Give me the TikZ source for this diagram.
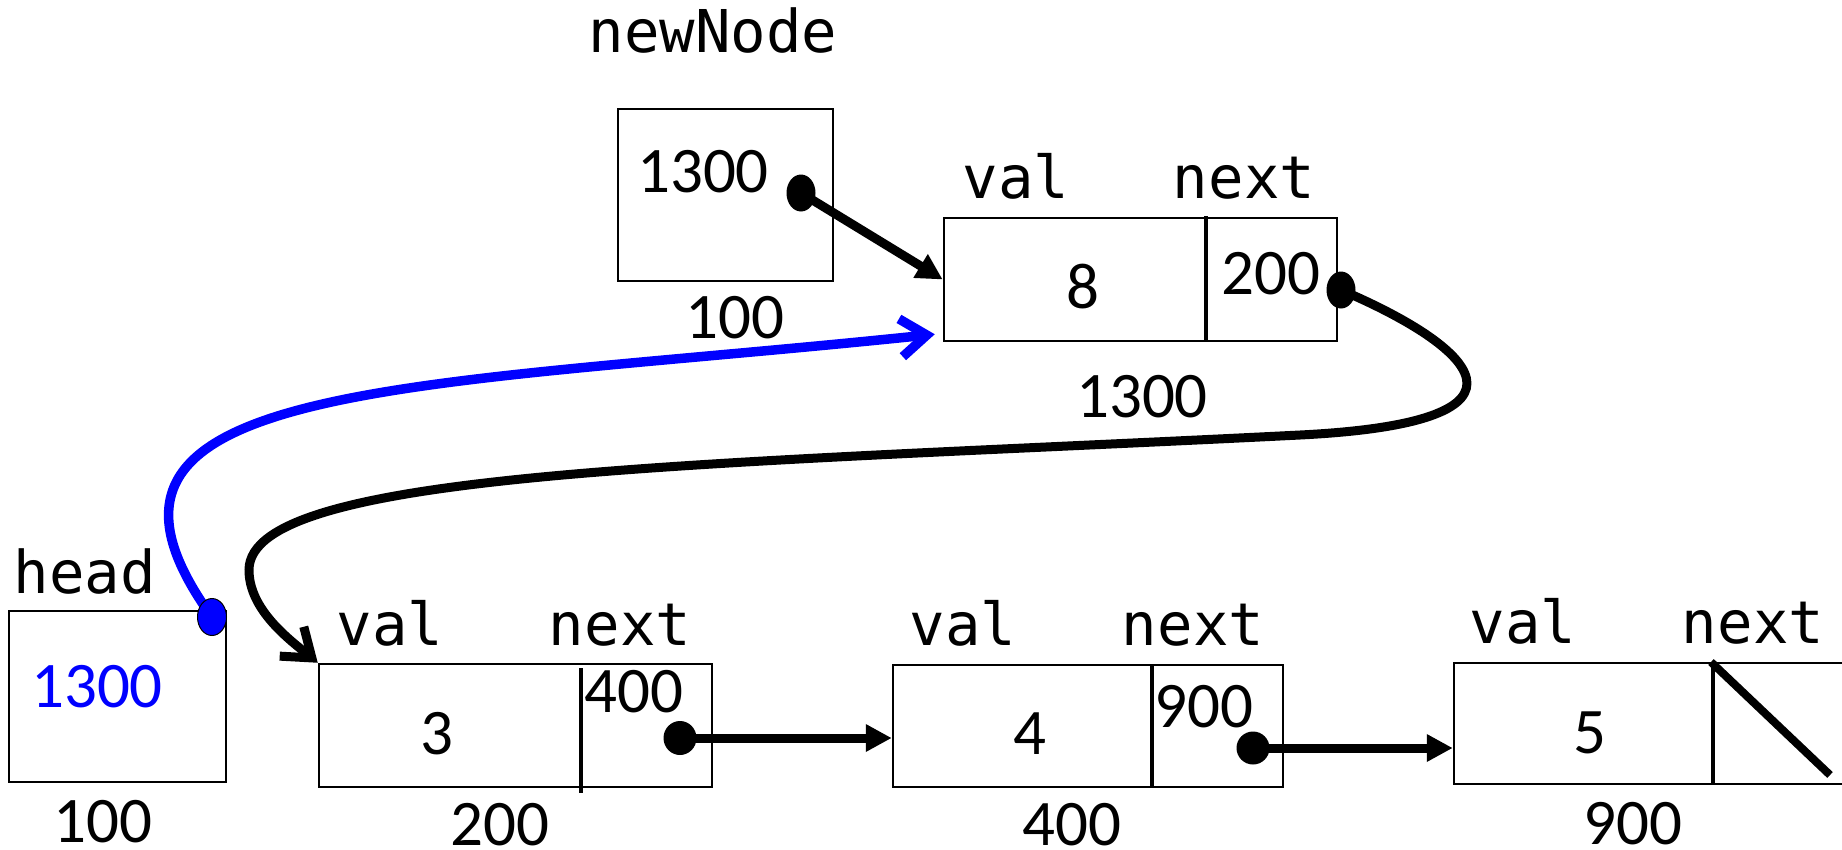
\documentclass[tikz,border=0pt]{standalone}
\usepackage{fontspec}
\newfontfamily\monof{DejaVu Sans Mono}
\newfontfamily\numf{Carlito}
\usetikzlibrary{arrows.meta,shapes.geometric,calc}
\definecolor{ptrblue}{RGB}{0,0,255}
\tikzset{
  lbl/.style={font=\monof\fontsize{59}{60}\selectfont, inner sep=0pt, anchor=base},
  num/.style={font=\numf\fontsize{65}{66}\selectfont, inner sep=0pt},
  cell/.style={draw, line width=2.5pt, rectangle, inner sep=0pt},
  divider/.style={line width=3.5pt},
  dot/.style={ellipse, fill=black, inner sep=0pt, minimum width=29pt, minimum height=37pt},
  ptr/.style={line width=9pt, -{Triangle[length=26pt,width=26pt]}},
  curveptr/.style={line width=9pt, -{Straight Barb[length=26pt,width=38pt]}},
}
\begin{document}
\begin{tikzpicture}[x=1pt,y=-1pt]
\useasboundingbox (0,0) rectangle (1842,849);
\clip (0,0) rectangle (1842,849);

% boxes
\node[cell, minimum width=217pt, minimum height=171pt] (head) at (117.5,696.5) {};
\node[cell, minimum width=215pt, minimum height=172pt] (newnode) at (725.5,195) {};
\node[cell, minimum width=393pt, minimum height=123pt] (n1300) at (1140.5,279.5) {};
\node[cell, minimum width=393pt, minimum height=123pt] (n200) at (515.5,725.5) {};
\node[cell, minimum width=390pt, minimum height=122pt] (n400) at (1088,726) {};
\node[cell, minimum width=393pt, minimum height=121pt] (n900) at (1650.5,723.5) {};

% dividers
\draw[divider] (1206,216) -- (1206,341);
\draw[divider] (581,668) -- (581,793);
\draw[divider] (1152,665) -- (1152,788);
\draw[divider] (1713,663) -- (1713,784);
\draw[line width=8pt] (1711,662) -- (1830,775);

% texts
\node[lbl] (tnew) at (713,52) {newNode};
\node[num] (vnew) at (703,172) {1300};
\node[num] (anew) at (735,318) {100};

\node[lbl] (tv1) at (1016,198) {val};
\node[lbl] (tn1) at (1244,198) {next};
\node[num] (v1) at (1083,287) {8};
\node[num] (x1) at (1271,274) {200};
\node[num] (a1) at (1142,397) {1300};

\node[lbl] (thead) at (85,593) {head};
\node[num, text=ptrblue] (vhead) at (97,687) {1300};
\node[num] (ahead) at (103,822) {100};

\node[lbl] (tv2) at (390,645) {val};
\node[lbl] (tn2) at (620,645) {next};
\node[num] (x2) at (634,692) {400};
\node[num] (v2) at (437,734) {3};
\node[num] (a2) at (500,825) {200};

\node[lbl] (tv3) at (963,645) {val};
\node[lbl] (tn3) at (1193,645) {next};
\node[num] (x3) at (1204,707) {900};
\node[num] (v3) at (1030,734) {4};
\node[num] (a3) at (1072,825) {400};

\node[lbl] (tv4) at (1523,643) {val};
\node[lbl] (tn4) at (1753,643) {next};
\node[num] (v4) at (1590,733) {5};
\node[num] (a4) at (1633,824) {900};

% pointer origins
\coordinate (pnew) at (801,193);
\coordinate (p1300) at (1341,290);
\coordinate (phead) at (212,617);
\coordinate (p200) at (680,738);
\coordinate (p400) at (1253,748);
\coordinate (bluetip) at ($(n1300.south west)+(-8,-8)$);

% connectors
\draw[ptr] (pnew) -- (n1300.west);
\draw[ptr] (p200) -- (p200 -| n400.west);
\draw[ptr] (p400) -- (p400 -| n900.west);
\draw[curveptr, ptrblue, line width=9.5pt] (phead) .. controls (40,380) and (400,390) .. (bluetip);
\draw[curveptr] (p1300) .. controls (1470,345) and (1560,422) .. (1300,435)
   .. controls (700,465) and (249,470) .. (249,570)
   .. controls (249,610) and (290,640) .. (n200.north west);

% dots
\node[dot] (dnew) at (pnew) {};
\node[dot] (d1300) at (p1300) {};
\node[dot, fill=ptrblue, draw=black, line width=1pt] (dhead) at (phead) {};
\node[dot, minimum width=33pt, minimum height=34pt] (d200) at (p200) {};
\node[dot, minimum width=33pt, minimum height=33pt] (d400) at (p400) {};
\end{tikzpicture}
\end{document}
